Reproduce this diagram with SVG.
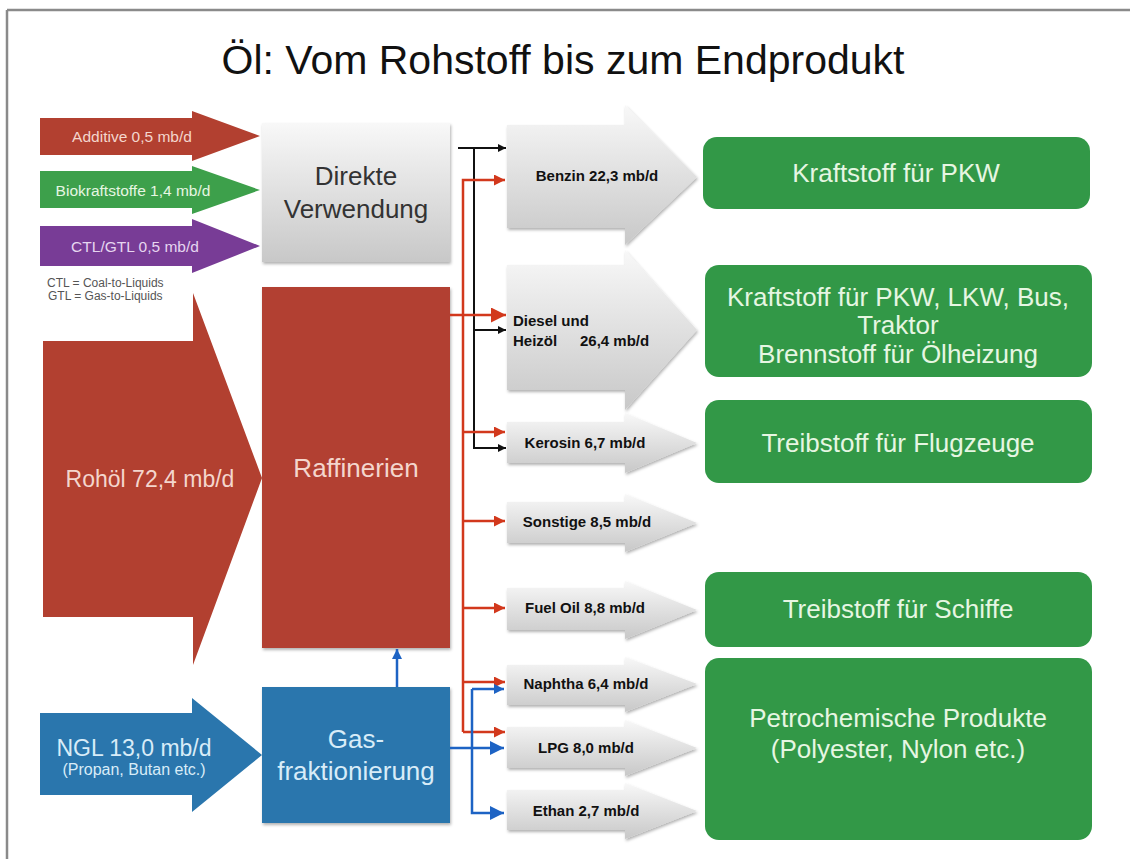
<svg xmlns="http://www.w3.org/2000/svg" width="1130" height="859" viewBox="0 0 1130 859">
<defs>
  <linearGradient id="gGray" x1="0" y1="0" x2="0" y2="1">
    <stop offset="0" stop-color="#f8f8f8"/>
    <stop offset="1" stop-color="#c8c8c8"/>
  </linearGradient>
  <filter id="sh" x="-10%" y="-10%" width="130%" height="130%">
    <feDropShadow dx="1" dy="2" stdDeviation="1.5" flood-color="#000" flood-opacity="0.3"/>
  </filter>
  <filter id="soft" x="-5%" y="-5%" width="110%" height="110%">
    <feGaussianBlur stdDeviation="0.7"/>
  </filter>
  <marker id="mK" viewBox="0 0 10 10" refX="10" refY="5" markerUnits="userSpaceOnUse" markerWidth="9" markerHeight="8" orient="auto">
    <path d="M0,0 L10,5 L0,10 z" fill="#111"/>
  </marker>
  <marker id="mR" viewBox="0 0 10 10" refX="10" refY="5" markerUnits="userSpaceOnUse" markerWidth="12" markerHeight="11" orient="auto">
    <path d="M0,0 L10,5 L0,10 z" fill="#d2381c"/>
  </marker>
  <marker id="mRB" viewBox="0 0 10 10" refX="10" refY="5" markerUnits="userSpaceOnUse" markerWidth="15" markerHeight="15" orient="auto">
    <path d="M0,0 L10,5 L0,10 z" fill="#d2381c"/>
  </marker>
  <marker id="mB" viewBox="0 0 10 10" refX="10" refY="5" markerUnits="userSpaceOnUse" markerWidth="11" markerHeight="10" orient="auto">
    <path d="M0,0 L10,5 L0,10 z" fill="#1d63c4"/>
  </marker>
  <marker id="mBB" viewBox="0 0 10 10" refX="10" refY="5" markerUnits="userSpaceOnUse" markerWidth="14" markerHeight="14" orient="auto">
    <path d="M0,0 L10,5 L0,10 z" fill="#1d63c4"/>
  </marker>
</defs>
<style>
  text { font-family: "Liberation Sans", Arial, sans-serif; }
  .title { font-size: 41px; fill: #111; text-anchor: middle; }
  .inA { font-size: 15.5px; text-anchor: middle; }
  .big { font-size: 26px; text-anchor: middle; }
  .med { font-size: 23px; text-anchor: middle; }
  .prod { font-size: 15px; font-weight: bold; fill: #111; }
  .mid { text-anchor: middle; }
  .note { font-size: 12px; fill: #555; }
  .gray { fill: url(#gGray); filter: url(#sh); }
  .red { fill: #b24030; }
  .blue { fill: #2a76ad; }
  .green { fill: #309846; }
  .gbox { fill: #309846; filter: url(#soft); }
  .tRed { fill: #f4d6cd; }
  .tGreen { fill: #e6f6e2; }
  .tBlue { fill: #d8ecf8; }
  .tPurple { fill: #e6d6f0; }
  .cR { stroke: #d2381c; stroke-width: 2.5; fill: none; }
  .cK { stroke: #111; stroke-width: 2; fill: none; }
  .cB { stroke: #1d63c4; stroke-width: 2.5; fill: none; }
</style>

<rect x="0" y="0" width="1130" height="859" fill="#fff"/>
<g id="frame">
  <line x1="7" y1="10" x2="1130" y2="10" stroke="#8a8a8a" stroke-width="2.5"/>
  <line x1="7" y1="10" x2="7" y2="859" stroke="#8a8a8a" stroke-width="2.5"/>
</g>

<text class="title" x="563" y="74">Öl: Vom Rohstoff bis zum Endprodukt</text>

<g id="in-additive">
  <polygon class="red" points="40,118 192,118 192,111 260,136 192,161 192,155 40,155"/>
  <text class="inA tRed" x="132" y="142">Additive 0,5 mb/d</text>
</g>
<g id="in-bio">
  <polygon fill="#3da04b" points="40,171 192,171 192,166 260,190 192,214 192,208 40,208"/>
  <text class="inA tGreen" x="133" y="196">Biokraftstoffe 1,4 mb/d</text>
</g>
<g id="in-ctl">
  <polygon fill="#783c96" points="40,226 192,226 192,219 260,246 192,273 192,266 40,266"/>
  <text class="inA tPurple" x="135" y="252">CTL/GTL 0,5 mb/d</text>
</g>
<g id="note">
  <text class="note" x="47" y="287">CTL = Coal-to-Liquids</text>
  <text class="note" x="48" y="300">GTL = Gas-to-Liquids</text>
</g>
<g id="in-rohoel">
  <polygon class="red" points="43,341 193,341 193,293 262,478 193,665 193,617 43,617"/>
  <text class="med tRed" x="150" y="487">Rohöl 72,4 mb/d</text>
</g>
<g id="in-ngl">
  <polygon class="blue" points="40,713 192,713 192,698 262,755 192,812 192,795 40,795"/>
  <text class="med tBlue" x="134" y="756">NGL 13,0 mb/d</text>
  <text class="tBlue mid" x="134" y="775" font-size="16">(Propan, Butan etc.)</text>
</g>

<g id="direkte">
  <rect class="gray" x="262" y="123" width="188" height="139"/>
  <text class="big" fill="#333" x="356" y="185">Direkte</text>
  <text class="big" fill="#333" x="356" y="218">Verwendung</text>
</g>
<g id="raffinerien">
  <rect class="red" x="262" y="287" width="188" height="361" filter="url(#sh)"/>
  <text class="big tRed" x="356" y="477">Raffinerien</text>
</g>
<g id="gasfrak">
  <rect class="blue" x="262" y="687" width="188" height="136" filter="url(#sh)"/>
  <text class="big tBlue" x="356" y="748">Gas-</text>
  <text class="big tBlue" x="356" y="780">fraktionierung</text>
</g>

<g id="p-benzin">
  <polygon class="gray" points="507,125 625,125 625,105 697,177 625,245 625,228 507,228"/>
  <text class="prod mid" x="597" y="181">Benzin 22,3 mb/d</text>
</g>
<g id="p-diesel">
  <polygon class="gray" points="507,265 625,265 625,250 697,330 625,410 625,390 507,390"/>
  <text class="prod" x="513" y="326">Diesel und</text>
  <text class="prod" x="513" y="346">Heizöl</text>
  <text class="prod" x="580" y="346">26,4 mb/d</text>
</g>
<g id="p-kerosin">
  <polygon class="gray" points="507,422 625,422 625,413 697,443 625,473 625,463 507,463"/>
  <text class="prod mid" x="585" y="448">Kerosin 6,7 mb/d</text>
</g>
<g id="p-sonstige">
  <polygon class="gray" points="507,502 625,502 625,494 697,523 625,552 625,543 507,543"/>
  <text class="prod mid" x="587" y="527">Sonstige 8,5 mb/d</text>
</g>
<g id="p-fueloil">
  <polygon class="gray" points="507,588 625,588 625,581 697,610 625,639 625,630 507,630"/>
  <text class="prod mid" x="585" y="613">Fuel Oil 8,8 mb/d</text>
</g>
<g id="p-naphtha">
  <polygon class="gray" points="507,665 625,665 625,657 697,684 625,712 625,705 507,705"/>
  <text class="prod mid" x="586" y="689">Naphtha 6,4 mb/d</text>
</g>
<g id="p-lpg">
  <polygon class="gray" points="507,727 625,727 625,720 697,748 625,776 625,768 507,768"/>
  <text class="prod mid" x="586" y="753">LPG 8,0 mb/d</text>
</g>
<g id="p-ethan">
  <polygon class="gray" points="507,790 625,790 625,783 697,811 625,839 625,830 507,830"/>
  <text class="prod mid" x="586" y="816">Ethan 2,7 mb/d</text>
</g>

<g id="u-pkw">
  <rect class="gbox" x="703" y="137" width="387" height="72" rx="14"/>
  <text class="big tGreen" x="896" y="182">Kraftstoff für PKW</text>
</g>
<g id="u-diesel">
  <rect class="gbox" x="705" y="265" width="387" height="112" rx="14"/>
  <text class="big tGreen" x="898" y="306">Kraftstoff für PKW, LKW, Bus,</text>
  <text class="big tGreen" x="898" y="334">Traktor</text>
  <text class="big tGreen" x="898" y="363">Brennstoff für Ölheizung</text>
</g>
<g id="u-flug">
  <rect class="gbox" x="705" y="400" width="387" height="83" rx="14"/>
  <text class="big tGreen" x="898" y="452">Treibstoff für Flugzeuge</text>
</g>
<g id="u-schiffe">
  <rect class="gbox" x="705" y="572" width="387" height="75" rx="14"/>
  <text class="big tGreen" x="898" y="618">Treibstoff für Schiffe</text>
</g>
<g id="u-petro">
  <rect class="gbox" x="705" y="658" width="387" height="182" rx="14"/>
  <text class="big tGreen" x="898" y="727">Petrochemische Produkte</text>
  <text class="big tGreen" x="898" y="758">(Polyester, Nylon etc.)</text>
</g>

<g id="connectors">
  <path class="cK" d="M458,148 H506" marker-end="url(#mK)"/>
  <path class="cK" d="M474,148 V448 H506" marker-end="url(#mK)"/>
  <path class="cK" d="M474,330 H506" marker-end="url(#mK)"/>
  <path class="cR" d="M463,732 V180 H505" marker-end="url(#mR)"/>
  <path class="cR" d="M463,432 H505" marker-end="url(#mR)"/>
  <path class="cR" d="M463,521 H505" marker-end="url(#mR)"/>
  <path class="cR" d="M463,608 H505" marker-end="url(#mR)"/>
  <path class="cR" d="M463,682 H505" marker-end="url(#mR)"/>
  <path class="cR" d="M463,732 H505" marker-end="url(#mR)"/>
  <path class="cR" d="M450,315 H506" stroke-width="4" marker-end="url(#mRB)"/>
  <path class="cB" d="M397,687 V649" marker-end="url(#mB)"/>
  <path class="cB" d="M450,748 H504" marker-end="url(#mBB)"/>
  <path class="cB" d="M472,689 H504" marker-end="url(#mB)"/>
  <path class="cB" d="M472,689 V813 H504" marker-end="url(#mBB)"/>
</g>
</svg>
